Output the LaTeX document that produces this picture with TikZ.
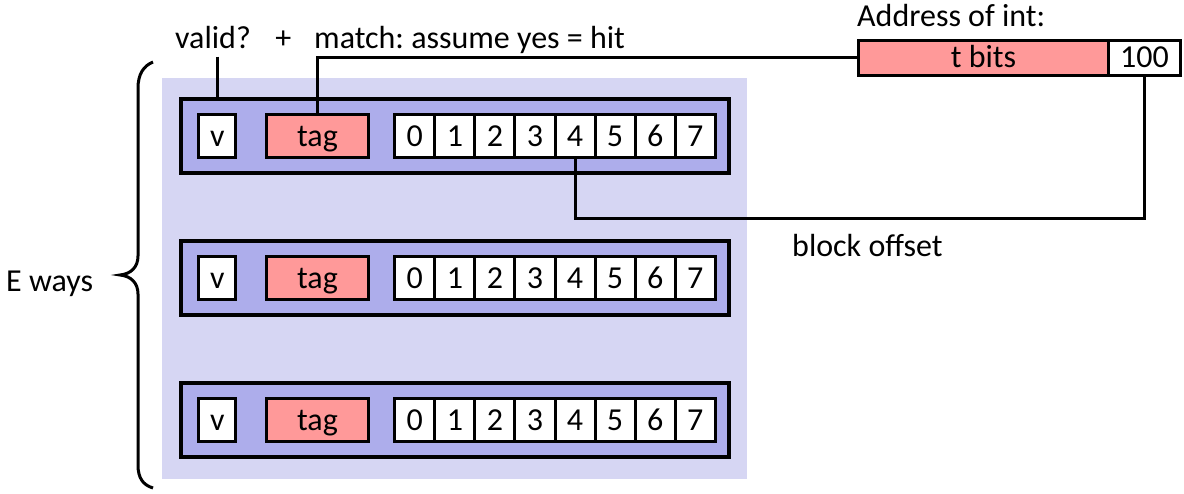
\documentclass[tikz,border=0pt]{standalone}
\usepackage{fontspec}
\setmainfont{Carlito}
\frenchspacing
\definecolor{bgc}{RGB}{214,214,243}
\definecolor{rowc}{RGB}{173,173,235}
\definecolor{tagc}{RGB}{255,153,153}
\begin{document}
\begin{tikzpicture}[x=1pt,y=-1pt,
  lbl/.style={font=\fontsize{32}{38}\selectfont, inner sep=0pt},
  rowbox/.style={draw, line width=3.5pt, fill=rowc, minimum width=548pt, minimum height=74pt, inner sep=0pt},
  cellbox/.style={draw, line width=3pt, fill=white, minimum height=43pt, inner sep=0pt,
     text height=20pt, text depth=0pt, font=\fontsize{32}{38}\selectfont},
  conn/.style={draw, line width=3pt}]
\useasboundingbox (0,0) rectangle (1184,493);
% background
\fill[bgc] (162.3,78.3) rectangle (747,479);
% rows
\foreach \r in {0,1,2} {
  \pgfmathsetmacro\yc{136+142*\r}
  \node[rowbox] (row\r) at (455,\yc) {};
  \node[cellbox, minimum width=37pt] (v\r) at (217.3,\yc) {v};
  \node[cellbox, fill=tagc, minimum width=102pt] (tag\r) at (317.5,\yc) {tag};
  \foreach \i in {0,...,7} {
    \node[cellbox, minimum width=40.05pt] (c\r\i) at ({394.8+40.05*(\i+0.5)},\yc) {\i};
  }
}
% address
\node[cellbox, fill=tagc, minimum width=249.5pt, minimum height=34.7pt] (tbits) at (983.55,57.85) {t bits};
\node[cellbox, minimum width=72.5pt, minimum height=34.7pt] (off) at (1144.5,57.85) {100};
% texts
\node[lbl, anchor=base west] (valid) at (175,48.3) {valid?};
\node[lbl, anchor=base] (plus) at (283.3,48.3) {+};
\node[lbl, anchor=base west] (match) at (314,48.3) {match: assume yes = hit};
\node[lbl, anchor=base west] (addr) at (857,26.5) {Address of int:};
\node[lbl, anchor=base west] (blk) at (792,256) {block offset};
\node[lbl, anchor=base west] (eways) at (6,291.7) {E ways};
% connectors
\coordinate (vtop) at (0,56.7);
\coordinate (ylev) at (0,218.3);
\draw[conn] (v0.north |- vtop) -- (v0.north |- row0.north);
\draw[conn] (tag0.north) |- (tbits.west);
\draw[conn] (off.south) |- (c04.south |- ylev) -- (c04.south);
% brace
\draw[line width=3pt] (153,62) .. controls (143,66) and (138,75) .. (138,88) -- (138,256)
  .. controls (138,267) and (131,274) .. (120,275)
  .. controls (131,276) and (138,283) .. (138,294) -- (138,465)
  .. controls (138,478) and (143,485) .. (153,488);
\end{tikzpicture}
\end{document}
